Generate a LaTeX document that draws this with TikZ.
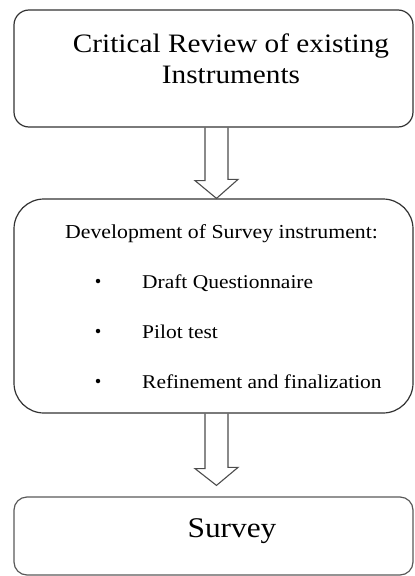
\documentclass[tikz,border=0pt]{standalone}
\usepackage{fontspec}
\setmainfont{Liberation Serif}[FakeStretch=1.1]
\usetikzlibrary{calc}
\begin{document}
\begin{tikzpicture}[x=1pt,y=-1pt,
  box/.style={draw=black!80, line width=1.2pt, inner sep=0pt},
  lbl/.style={inner sep=0pt, text=black},
  dot/.style={circle, fill=black, inner sep=0pt, minimum size=4.5pt},
  blk/.style={draw=black!70, line width=1.1pt, line join=miter}]
\useasboundingbox (0,0) rectangle (415,576);
% boxes
\node[box, rounded corners=15pt, minimum width=399pt, minimum height=117pt] (b1) at (213.5,68.5) {};
\node[box, rounded corners=30pt, minimum width=399pt, minimum height=214pt] (b2) at (213.5,306) {};
\node[box, draw=black!65, rounded corners=13pt, minimum width=399pt, minimum height=78pt] (b3) at (213.5,536) {};
% texts
\node[lbl, anchor=base, font=\fontsize{26.6}{31}\selectfont] (t1) at (231,52) {Critical Review of existing};
\node[lbl, anchor=base, font=\fontsize{26.6}{31}\selectfont] (t2) at (231,83) {Instruments};
\node[lbl, anchor=base west, font=\fontsize{19.8}{24}\selectfont] (t3) at (65,238) {Development of Survey instrument:};
\node[dot] (k1) at (98,281) {};
\node[dot] (k2) at (98,331) {};
\node[dot] (k3) at (98,381) {};
\node[lbl, anchor=base west, font=\fontsize{19.5}{24}\selectfont] (i1) at (142,288) {Draft Questionnaire};
\node[lbl, anchor=base west, font=\fontsize{19.5}{24}\selectfont] (i2) at (142,338) {Pilot test};
\node[lbl, anchor=base west, font=\fontsize{19.5}{24}\selectfont] (i3) at (142,388) {Refinement and finalization};
\node[lbl, anchor=base, font=\fontsize{28.5}{34}\selectfont] (t4) at (232,537) {Survey};
% block arrows
\draw[blk] ($(b1.south)+(-8.5,0)$) -- ++(0,53) -- ++(-10,0) -- ($(b2.north)+(3,0)$) -- ++(21.5,-19) -- ++(-10,0) -- ($(b1.south)+(14.5,0)$);
\draw[blk] ($(b2.south)+(-8.5,0)$) -- ++(0,55) -- ++(-10,0) -- ($(b3.north)+(3,-11)$) -- ++(21.5,-18) -- ++(-10,0) -- ($(b2.south)+(14.5,0)$);
\end{tikzpicture}
\end{document}
